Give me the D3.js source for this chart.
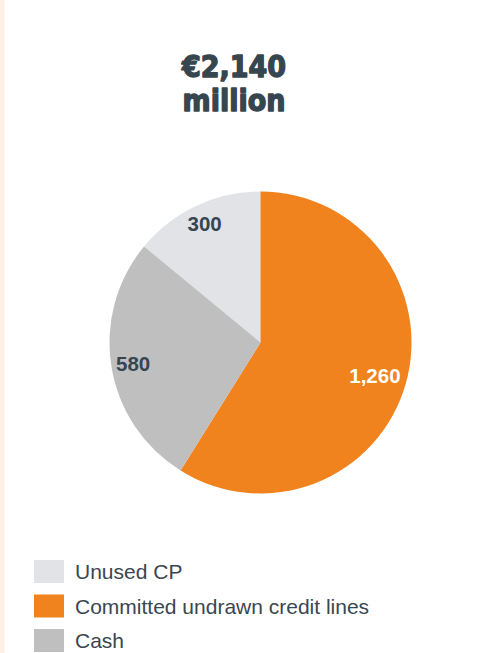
<!DOCTYPE html>
<html>
<head>
<meta charset="utf-8">
<script src="https://cdn.jsdelivr.net/npm/d3@7/dist/d3.min.js"></script>
<style>
  html, body { margin: 0; padding: 0; background: #ffffff; }
  svg { display: block; }
</style>
</head>
<body>
<svg id="chart" width="482" height="653"></svg>
<script>
// Liquidity sources, € million (legend order)
const categories = ["Unused CP", "Committed undrawn credit lines", "Cash"];
const values = [300, 1260, 580];
const valueLabels = ["300", "1,260", "580"];
const colors = ["#E2E3E7", "#F0831E", "#BFBFBF"];
const labelColors = ["#36464f", "#ffffff", "#36464f"];
// slices are laid out clockwise from 12 o'clock in this order
const sliceOrder = [1, 2, 0];
const titleLines = ["€2,140", "million"];

const width = 482, height = 653;
const cx = 260.5, cy = 342.5, radius = 151;
const labelRadius = [131, 119, 129];   // per category, distance of value label from centre
const textColor = "#36464f";

const svg = d3.select("#chart");

// thin peach strip on the left edge
svg.append("rect")
  .attr("x", 0).attr("y", 0)
  .attr("width", 4.5).attr("height", height)
  .attr("fill", "#FDEFE2");

// headline total, heavy and slightly tall
svg.append("g")
  .selectAll("text")
  .data(titleLines)
  .join("text")
  .attr("transform", (d, i) => `translate(234,${76.5 + i * 34}) scale(1,1.1)`)
  .attr("text-anchor", "middle")
  .attr("font-family", "DejaVu Sans, sans-serif")
  .attr("font-weight", "bold")
  .attr("font-size", 27)
  .attr("fill", textColor)
  .attr("stroke", textColor)
  .attr("stroke-width", 1.3)
  .attr("stroke-linejoin", "round")
  .text(d => d);

// pie
const items = categories.map((c, i) => ({ name: c, value: values[i], label: valueLabels[i], i }));
const pie = d3.pie()
  .value(d => d.value)
  .sort((a, b) => sliceOrder.indexOf(a.i) - sliceOrder.indexOf(b.i));
const arcs = pie(items);
const arc = d3.arc().innerRadius(0).outerRadius(radius);

const g = svg.append("g").attr("transform", `translate(${cx},${cy})`);
g.selectAll("path")
  .data(arcs)
  .join("path")
  .attr("d", arc)
  .attr("fill", d => colors[d.data.i]);

g.selectAll("text")
  .data(arcs)
  .join("text")
  .attr("transform", d => {
    const a = (d.startAngle + d.endAngle) / 2;
    const r = labelRadius[d.data.i];
    return `translate(${Math.sin(a) * r},${-Math.cos(a) * r})`;
  })
  .attr("dy", "0.36em")
  .attr("text-anchor", "middle")
  .attr("font-family", "Liberation Sans, Arial, sans-serif")
  .attr("font-weight", "bold")
  .attr("font-size", 20.5)
  .attr("fill", d => labelColors[d.data.i])
  .text(d => d.data.label);

// legend
const legend = svg.append("g")
  .selectAll("g")
  .data(items)
  .join("g")
  .attr("transform", (d, i) => `translate(34,${560 + i * 34.5})`);

legend.append("rect")
  .attr("width", 30).attr("height", 23)
  .attr("fill", d => colors[d.i]);

legend.append("text")
  .attr("x", 41)
  .attr("y", 19)
  .attr("font-family", "Liberation Sans, Arial, sans-serif")
  .attr("font-size", 21)
  .attr("fill", "#3a4750")
  .text(d => d.name);
</script>
</body>
</html>
